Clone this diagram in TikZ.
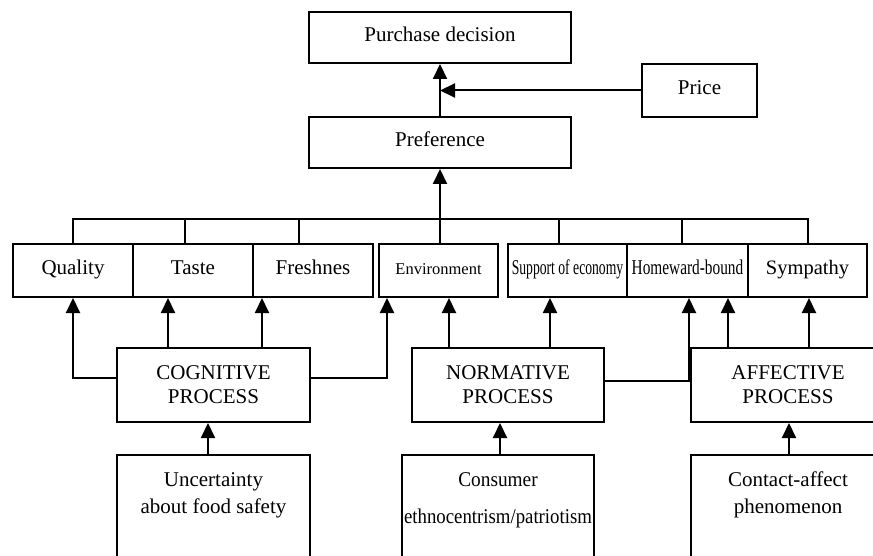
\documentclass[tikz,border=0pt]{standalone}
\usepackage{fontspec}
\setmainfont{Liberation Serif}
\usetikzlibrary{arrows.meta}
\begin{document}
\begin{tikzpicture}[x=1pt,y=-1pt,
  box/.style={draw, line width=2pt, inner sep=0pt, align=center, font=\fontsize{21}{24}\selectfont},
  onebox/.style={box, text height=14pt, text depth=5pt},
  rowbox/.style={onebox, minimum height=53pt},
  procbox/.style={box, minimum height=74pt},
  txt/.style={inner sep=0pt, font=\fontsize{21}{24}\selectfont},
  ln/.style={line width=2pt},
  arr/.style={line width=2pt, -{Triangle[length=15pt,width=14pt]}}]
\useasboundingbox (0,0) rectangle (873,556);
\clip (0,0) rectangle (873,556);
% top
\node[onebox, minimum width=262pt, minimum height=51pt] (purch) at (440,37.5) {Purchase decision};
\node[onebox, minimum width=262pt, minimum height=51pt] (pref) at (440,142.5) {Preference};
\node[onebox, minimum width=115pt, minimum height=53pt] (price) at (699.5,90.5) {Price};
% row of attributes
\node[rowbox, minimum width=120pt] (qual) at (73,270.5) {Quality};
\node[rowbox, minimum width=120pt] (taste) at (193,270.5) {Taste};
\node[rowbox, minimum width=120pt] (fresh) at (313,270.5) {Freshnes};
\node[rowbox, minimum width=119pt, font=\fontsize{16.5}{20}\selectfont] (env) at (438.5,270.5) {Environment};
\node[rowbox, minimum width=119pt, font=\fontsize{21}{24}\selectfont] (supp) at (567.5,270.5) {\scalebox{0.65}[1]{Support of economy}};
\node[rowbox, minimum width=121pt, font=\fontsize{21}{24}\selectfont] (home) at (687.5,270.5) {\scalebox{0.73}[1]{Homeward-bound}};
\node[rowbox, minimum width=119pt, font=\fontsize{20.5}{24}\selectfont] (symp) at (807.5,270.5) {Sympathy};
% processes
\node[procbox, minimum width=193pt] (cog) at (213.5,385) {COGNITIVE\\PROCESS};
\node[procbox, minimum width=192pt] (norm) at (508,385) {NORMATIVE\\PROCESS};
\node[procbox, minimum width=194pt] (aff) at (788,385) {AFFECTIVE\\PROCESS};
% antecedents
\node[box, minimum width=193pt, minimum height=165pt] (unc) at (213.5,537.5) {};
\node[box, minimum width=192pt, minimum height=165pt] (cons) at (498,537.5) {};
\node[box, minimum width=194pt, minimum height=165pt] (cont) at (788,537.5) {};
\node[txt, anchor=base] (unc1) at (213.5,486) {Uncertainty};
\node[txt, anchor=base] (unc2) at (213.5,513) {about food safety};
\node[txt, anchor=base] (cons1) at (498,486) {\scalebox{0.92}[1]{Consumer}};
\node[txt, anchor=base] (cons2) at (498,523) {\scalebox{0.895}[1]{ethnocentrism/patriotism}};
\node[txt, anchor=base] (cont1) at (788,486) {Contact-affect};
\node[txt, anchor=base] (cont2) at (788,513) {phenomenon};
% top arrows
\draw[arr] (pref.north) -- (purch.south);
\draw[arr] (price.west) -- (price.west -| pref.north);
\draw[arr] (pref.south |- env.north) -- (pref.south);
% bus
\coordinate (bus) at (440,219);
\draw[ln] (qual.north) |- (bus) -| (symp.north);
\draw[ln] ([xshift=-8pt]taste.north) -- ([xshift=-8pt]taste.north |- bus);
\draw[ln] ([xshift=-14pt]fresh.north) -- ([xshift=-14pt]fresh.north |- bus);
\draw[ln] ([xshift=-8.5pt]supp.north) -- ([xshift=-8.5pt]supp.north |- bus);
\draw[ln] ([xshift=-5.5pt]home.north) -- ([xshift=-5.5pt]home.north |- bus);
% cognitive
\draw[arr] ([yshift=7pt]cog.west) -| (qual.south);
\draw[arr] ([xshift=-45.5pt]cog.north) -- ([xshift=-45.5pt]cog.north |- taste.south);
\draw[arr] ([xshift=48.5pt]cog.north) -- ([xshift=48.5pt]cog.north |- fresh.south);
\draw[arr] ([yshift=7pt]cog.east) -| ([xshift=-51.5pt]env.south);
\draw[arr] ([xshift=-5.5pt]unc.north) -- ([xshift=-5.5pt]unc.north |- cog.south);
% normative
\draw[arr] ([xshift=-59pt]norm.north) -- ([xshift=-59pt]norm.north |- env.south);
\draw[arr] ([xshift=42pt]norm.north) -- ([xshift=42pt]norm.north |- supp.south);
\draw[arr] ([yshift=4pt]norm.east) -| ([xshift=1.5pt]home.south);
\draw[arr] ([xshift=2pt]cons.north) -- ([xshift=2pt]cons.north |- norm.south);
% affective
\draw[arr] ([xshift=-60pt]aff.north) -- ([xshift=-60pt]aff.north |- home.south);
\draw[arr] ([xshift=21pt]aff.north) -- ([xshift=21pt]aff.north |- symp.south);
\draw[arr] ([xshift=1pt]cont.north) -- ([xshift=1pt]cont.north |- aff.south);
\end{tikzpicture}
\end{document}
